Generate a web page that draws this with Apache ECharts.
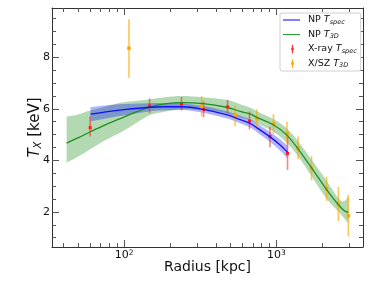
<!DOCTYPE html>
<html><head><meta charset="utf-8">
<script src="https://cdn.jsdelivr.net/npm/echarts@6/dist/echarts.min.js"></script>
<style>html,body{margin:0;padding:0;background:#fff}#c{width:374px;height:288px}</style>
</head><body><div id="c"></div>
<script>
// ---- tick values ----
const xTickMajor = [100, 1000];
const xTickMinor = [40, 50, 60, 70, 80, 90, 200, 300, 400, 500, 600, 700, 800, 900, 2000, 3000];
const yTickMajor = [2, 4, 6, 8];
const yTickMinor = [1, 1.5, 2.5, 3, 3.5, 4.5, 5, 5.5, 6.5, 7, 7.5, 8.5, 9, 9.5];

// ---- NP T_spec model (blue) ----
const radiusSpec = [60, 80, 100, 147, 185, 240, 330, 470, 580, 670, 750, 900, 1050, 1185];
const tSpecModel = [5.79, 5.90, 5.97, 6.06, 6.08, 6.08, 5.98, 5.77, 5.58, 5.44, 5.25, 4.93, 4.62, 4.32];
const tSpecLo    = [5.51, 5.65, 5.75, 5.90, 5.94, 5.95, 5.85, 5.63, 5.43, 5.28, 5.08, 4.74, 4.40, 4.07];
const tSpecHi    = [6.07, 6.15, 6.19, 6.22, 6.22, 6.21, 6.11, 5.91, 5.73, 5.60, 5.42, 5.12, 4.84, 4.57];

// ---- NP T_3D model (green) ----
const radius3D = [41.8, 50, 59.4, 75, 96, 120, 147.5, 185, 240, 330, 470, 580, 670, 750, 955, 1169, 1396, 1710, 2147, 2560, 2800, 2977];
const t3DModel = [4.67, 4.88, 5.10, 5.38, 5.64, 5.88, 6.07, 6.19, 6.24, 6.20, 6.06, 5.90, 5.80, 5.66, 5.38, 4.99, 4.43, 3.70, 2.86, 2.28, 2.05, 1.98];
const t3DLo    = [3.91, 4.15, 4.42, 4.78, 5.10, 5.45, 5.76, 5.89, 5.98, 5.95, 5.83, 5.65, 5.56, 5.42, 5.12, 4.69, 4.15, 3.37, 2.50, 2.02, 1.75, 1.57];
const t3DHi    = [5.70, 5.78, 5.93, 6.08, 6.24, 6.31, 6.37, 6.45, 6.50, 6.45, 6.35, 6.18, 6.05, 5.90, 5.60, 5.25, 4.73, 4.02, 3.20, 2.53, 2.42, 2.62];

// ---- X-ray T_spec data (red) ----
const xrayR  = [59.7, 146.8, 238, 332.5, 478, 666, 908, 1185];
const xrayT  = [5.27, 6.11, 6.19, 5.98, 6.07, 5.52, 4.93, 4.27];
const xrayLo = [4.93, 5.83, 5.93, 5.67, 5.82, 5.20, 4.51, 3.63];
const xrayHi = [5.70, 6.40, 6.46, 6.28, 6.35, 5.89, 5.30, 5.08];

// ---- X/SZ T_3D data (orange) ----
const xszR  = [107.4, 323, 536, 745, 958, 1175, 1390, 1705, 2140, 2560, 2977];
const xszT  = [8.35, 6.10, 5.76, 5.62, 5.41, 5.05, 4.48, 3.69, 2.90, 2.31, 1.85];
const xszLo = [7.20, 5.71, 5.33, 5.25, 5.02, 4.66, 4.05, 3.22, 2.43, 1.65, 1.05];
const xszHi = [9.47, 6.49, 6.15, 5.98, 5.80, 5.50, 4.93, 4.16, 3.37, 2.97, 2.66];

const FONT = 'DejaVu Sans';
const X_MIN = 33.5, X_MAX = 3715, Y_MIN = 0.64, Y_MAX = 9.91;
const zip = (a, b) => a.map((v, i) => [v, b[i]]);

const lineC = '#333';
function xAx(pos, ticks, len, main) {
  return {
    type: 'log', logBase: 10, position: pos, min: X_MIN, max: X_MAX, gridIndex: 0,
    axisLine: { show: main, onZero: false, lineStyle: { color: lineC, width: 1 } },
    axisTick: { show: true, inside: true, length: len, customValues: ticks, lineStyle: { color: '#555', width: 1 } },
    axisLabel: (main && pos === 'bottom') ? {
      show: true, customValues: xTickMajor, margin: 2, color: '#111',
      formatter: v => '{b|10}{s|' + Math.round(Math.log10(v)) + '}',
      rich: { b: { fontSize: 11, fontFamily: FONT, color: '#111', lineHeight: 12 },
              s: { fontSize: 7.5, fontFamily: FONT, color: '#111', verticalAlign: 'top', lineHeight: 12 } }
    } : { show: false },
    splitLine: { show: false }, minorTick: { show: false },
    name: (main && pos === 'bottom') ? 'Radius [kpc]' : '',
    nameLocation: 'middle', nameGap: 13.5, nameMoveOverlap: false,
    nameTextStyle: { fontSize: 14, fontFamily: FONT, color: '#111', verticalAlign: 'top' }
  };
}
function yAx(pos, ticks, len, main) {
  return {
    type: 'value', position: pos, min: Y_MIN, max: Y_MAX, gridIndex: 0,
    axisLine: { show: main, onZero: false, lineStyle: { color: lineC, width: 1 } },
    axisTick: { show: true, inside: true, length: len, customValues: ticks, lineStyle: { color: '#555', width: 1 } },
    axisLabel: (main && pos === 'left') ? {
      show: true, customValues: yTickMajor, margin: 2, color: '#111', fontSize: 11, fontFamily: FONT
    } : { show: false },
    splitLine: { show: false },
    name: (main && pos === 'left') ? '{i|T}{s|X}{n| [keV]}' : '',
    nameLocation: 'middle', nameRotate: 90, nameGap: 9, nameMoveOverlap: false,
    nameTextStyle: {
      verticalAlign: 'bottom',
      rich: {
        i: { fontSize: 15, fontFamily: FONT, fontStyle: 'italic', color: '#111' },
        s: { fontSize: 10, fontFamily: FONT, fontStyle: 'italic', color: '#111', padding: [6, 0, 0, 0] },
        n: { fontSize: 15, fontFamily: FONT, color: '#111' }
      }
    }
  };
}

// Catmull-Rom smoothing of pixel points into SVG path commands
function smoothSeg(pts, start) {
  let d = start ? 'M' + pts[0][0] + ',' + pts[0][1] : 'L' + pts[0][0] + ',' + pts[0][1];
  for (let i = 0; i < pts.length - 1; i++) {
    const p0 = pts[Math.max(0, i - 1)], p1 = pts[i], p2 = pts[i + 1], p3 = pts[Math.min(pts.length - 1, i + 2)];
    const c1 = [p1[0] + (p2[0] - p0[0]) / 6, p1[1] + (p2[1] - p0[1]) / 6];
    const c2 = [p2[0] - (p3[0] - p1[0]) / 6, p2[1] - (p3[1] - p1[1]) / 6];
    d += 'C' + c1[0] + ',' + c1[1] + ' ' + c2[0] + ',' + c2[1] + ' ' + p2[0] + ',' + p2[1];
  }
  return d;
}
function bandRender(rs, lo, hi, fill) {
  return function (params, api) {
    if (params.dataIndex !== 0) return null;
    const up = rs.map((r, i) => api.coord([r, hi[i]]));
    const dn = rs.map((r, i) => api.coord([r, lo[i]])).reverse();
    const d = smoothSeg(up, true) + smoothSeg(dn, false) + 'Z';
    return { type: 'path', shape: { pathData: d }, style: { fill: fill, stroke: null } };
  };
}

function errBar(color, size, opacity) {
  return function (params, api) {
    const x = api.value(0), y = api.value(1), lo = api.value(2), hi = api.value(3);
    const p = api.coord([x, y]), pl = api.coord([x, lo]), ph = api.coord([x, hi]);
    return {
      type: 'group', children: [
        { type: 'line', shape: { x1: p[0], y1: ph[1], x2: p[0], y2: pl[1] },
          style: { stroke: color, lineWidth: 1.6, opacity: opacity } },
        { type: 'rect', shape: { x: p[0] - size / 2, y: p[1] - size / 2, width: size, height: size },
          style: { fill: color } }
      ]
    };
  };
}

// legend icons (20 x 10 boxes; tiny corner specks fix the bounding box)
const corners = 'M0,0 L0.01,0 L0,0.01 Z M20,10 L19.99,10 L20,9.99 Z ';
const lineIcon = 'path://' + corners + 'M0,4.4 L17,4.4 L17,5.6 L0,5.6 Z';
const errIcon = 'path://' + corners + 'M8.9,0.8 L10.1,0.8 L10.1,9.2 L8.9,9.2 Z M8.2,3.8 L10.8,3.8 L10.8,6.2 L8.2,6.2 Z';

const legendText = {
  npspec: '{a|NP }{i|T}{s|spec}',
  np3d: '{a|NP }{i|T}{s|3D}',
  xray: '{a|X-ray }{i|T}{s|spec}',
  xsz: '{a|X/SZ }{i|T}{s|3D}'
};

const chart = echarts.init(document.getElementById('c'), null, { renderer: 'canvas' });
chart.setOption({
  animation: false,
  backgroundColor: '#fff',
  grid: { left: 52, right: 11, top: 8, bottom: 41, containLabel: false },
  xAxis: [xAx('bottom', xTickMajor, 7, true), xAx('top', xTickMajor, 7, true),
          xAx('bottom', xTickMinor, 4, false), xAx('top', xTickMinor, 4, false)],
  yAxis: [yAx('left', yTickMajor, 7, true), yAx('right', yTickMajor, 7, true),
          yAx('left', yTickMinor, 4, false), yAx('right', yTickMinor, 4, false)],
  legend: {
    left: 280, top: 13, orient: 'vertical',
    itemWidth: 20, itemHeight: 10, itemGap: 4, padding: [2, 4, 2, 3],
    backgroundColor: '#fff', borderColor: '#d0d0d0', borderWidth: 1, borderRadius: 2,
    symbolKeepAspect: false, selectedMode: false,
    data: [
      { name: 'npspec', icon: lineIcon, itemStyle: { color: '#0000ff' } },
      { name: 'np3d', icon: lineIcon, itemStyle: { color: '#2ca02c' } },
      { name: 'xray', icon: errIcon, itemStyle: { color: '#ff3030' } },
      { name: 'xsz', icon: errIcon, itemStyle: { color: '#ffa500' } }
    ],
    formatter: n => legendText[n],
    textStyle: {
      rich: {
        a: { fontSize: 9.5, fontFamily: FONT, color: '#111' },
        i: { fontSize: 9.5, fontFamily: FONT, fontStyle: 'italic', color: '#111' },
        s: { fontSize: 6.5, fontFamily: FONT, fontStyle: 'italic', color: '#111', padding: [4, 0, 0, 0] }
      }
    }
  },
  series: [
    { name: 'g_band', type: 'custom', data: zip(radius3D, t3DModel), encode: { x: 0, y: 1 }, silent: true,
      renderItem: bandRender(radius3D, t3DLo, t3DHi, 'rgba(0,128,0,0.3)') },
    { name: 'b_band', type: 'custom', data: zip(radiusSpec, tSpecModel), encode: { x: 0, y: 1 }, silent: true,
      renderItem: bandRender(radiusSpec, tSpecLo, tSpecHi, 'rgba(0,0,255,0.3)') },
    { name: 'np3d', type: 'line', data: zip(radius3D, t3DModel), symbol: 'none', smooth: 0.35,
      color: '#2ca02c', lineStyle: { color: '#1e8f1e', width: 1.3 } },
    { name: 'npspec', type: 'line', data: zip(radiusSpec, tSpecModel), symbol: 'none', smooth: 0.35,
      color: '#0000ff', lineStyle: { color: '#1010ff', width: 1.3 } },
    { name: 'xray', type: 'custom', color: '#ff2020',
      data: xrayR.map((r, i) => [r, xrayT[i], xrayLo[i], xrayHi[i]]),
      encode: { x: 0, y: 1 }, renderItem: errBar('#ff1a1a', 3, 0.55) },
    { name: 'xsz', type: 'custom', color: '#ffa500',
      data: xszR.map((r, i) => [r, xszT[i], xszLo[i], xszHi[i]]),
      encode: { x: 0, y: 1 }, renderItem: errBar('#ffa500', 3.5, 0.65) }
  ]
});
</script></body></html>
